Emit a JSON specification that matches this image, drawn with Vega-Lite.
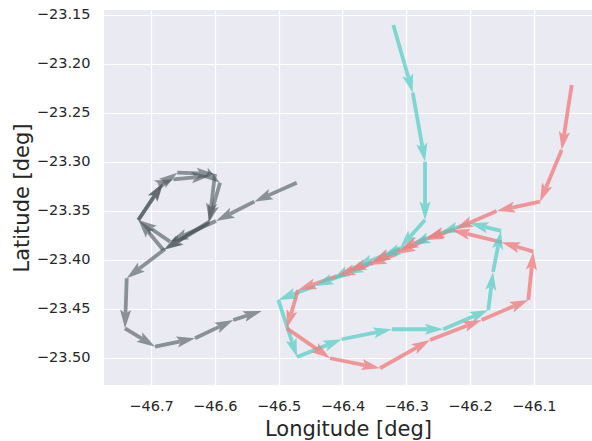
{
  "$schema": "https://vega.github.io/schema/vega-lite/v6.json",
  "width": 488,
  "height": 375,
  "autosize": {"type": "none"},
  "padding": {"left": 104, "top": 10, "right": 0, "bottom": 56},
  "background": "white",
  "config": {
    "view": {"fill": "#eaeaf2", "stroke": null},
    "axis": {
      "domain": false, "ticks": false, "tickSize": 0, "grid": true,
      "gridColor": "white", "gridWidth": 1.2,
      "labelFont": "DejaVu Sans", "labelFontSize": 14.5, "labelColor": "#262626",
      "titleFont": "DejaVu Sans", "titleFontSize": 21, "titleFontWeight": "normal", "titleColor": "#262626"
    }
  },
  "data": {
    "values": [
      {"traj": "gray", "step": 1, "lon": -46.4716, "lat": -23.3211},
      {"traj": "gray", "step": 2, "lon": -46.5381, "lat": -23.3405},
      {"traj": "gray", "step": 3, "lon": -46.5981, "lat": -23.3602},
      {"traj": "gray", "step": 4, "lon": -46.6702, "lat": -23.3813},
      {"traj": "gray", "step": 5, "lon": -46.7199, "lat": -23.3592},
      {"traj": "gray", "step": 6, "lon": -46.6807, "lat": -23.3211},
      {"traj": "gray", "step": 7, "lon": -46.6588, "lat": -23.3109},
      {"traj": "gray", "step": 8, "lon": -46.5997, "lat": -23.3122},
      {"traj": "gray", "step": 9, "lon": -46.6086, "lat": -23.3609},
      {"traj": "gray", "step": 10, "lon": -46.6807, "lat": -23.3898},
      {"traj": "gray", "step": 11, "lon": -46.7199, "lat": -23.3592},
      {"traj": "gray", "step": 12, "lon": -46.6817, "lat": -23.3217},
      {"traj": "gray", "step": 13, "lon": -46.6650, "lat": -23.3177},
      {"traj": "gray", "step": 14, "lon": -46.6075, "lat": -23.3143},
      {"traj": "gray", "step": 15, "lon": -46.5918, "lat": -23.3211},
      {"traj": "gray", "step": 16, "lon": -46.6102, "lat": -23.3626},
      {"traj": "gray", "step": 17, "lon": -46.6781, "lat": -23.3888},
      {"traj": "gray", "step": 18, "lon": -46.7381, "lat": -23.4187},
      {"traj": "gray", "step": 19, "lon": -46.7408, "lat": -23.4697},
      {"traj": "gray", "step": 20, "lon": -46.6937, "lat": -23.4885},
      {"traj": "gray", "step": 21, "lon": -46.6310, "lat": -23.4799},
      {"traj": "gray", "step": 22, "lon": -46.5710, "lat": -23.4612},
      {"traj": "gray", "step": 23, "lon": -46.5265, "lat": -23.4520},
      {"traj": "teal", "step": 1, "lon": -46.3202, "lat": -23.1602},
      {"traj": "teal", "step": 2, "lon": -46.2898, "lat": -23.2293},
      {"traj": "teal", "step": 3, "lon": -46.2705, "lat": -23.2997},
      {"traj": "teal", "step": 4, "lon": -46.2705, "lat": -23.3592},
      {"traj": "teal", "step": 5, "lon": -46.3097, "lat": -23.3878},
      {"traj": "teal", "step": 6, "lon": -46.3536, "lat": -23.4031},
      {"traj": "teal", "step": 7, "lon": -46.3959, "lat": -23.4143},
      {"traj": "teal", "step": 8, "lon": -46.4429, "lat": -23.4265},
      {"traj": "teal", "step": 9, "lon": -46.5005, "lat": -23.4408},
      {"traj": "teal", "step": 10, "lon": -46.4712, "lat": -23.4990},
      {"traj": "teal", "step": 11, "lon": -46.4011, "lat": -23.4809},
      {"traj": "teal", "step": 12, "lon": -46.3227, "lat": -23.4707},
      {"traj": "teal", "step": 13, "lon": -46.2418, "lat": -23.4707},
      {"traj": "teal", "step": 14, "lon": -46.1713, "lat": -23.4510},
      {"traj": "teal", "step": 15, "lon": -46.1639, "lat": -23.4122},
      {"traj": "teal", "step": 16, "lon": -46.1514, "lat": -23.3704},
      {"traj": "teal", "step": 17, "lon": -46.2000, "lat": -23.3626},
      {"traj": "teal", "step": 18, "lon": -46.2470, "lat": -23.3724},
      {"traj": "teal", "step": 19, "lon": -46.2909, "lat": -23.3847},
      {"traj": "teal", "step": 20, "lon": -46.3379, "lat": -23.3959},
      {"traj": "teal", "step": 21, "lon": -46.3803, "lat": -23.4071},
      {"traj": "teal", "step": 22, "lon": -46.4163, "lat": -23.4204},
      {"traj": "pink", "step": 1, "lon": -46.0406, "lat": -23.2214},
      {"traj": "pink", "step": 2, "lon": -46.0563, "lat": -23.2878},
      {"traj": "pink", "step": 3, "lon": -46.0903, "lat": -23.3405},
      {"traj": "pink", "step": 4, "lon": -46.1582, "lat": -23.3500},
      {"traj": "pink", "step": 5, "lon": -46.2235, "lat": -23.3684},
      {"traj": "pink", "step": 6, "lon": -46.2705, "lat": -23.3796},
      {"traj": "pink", "step": 7, "lon": -46.3144, "lat": -23.3939},
      {"traj": "pink", "step": 8, "lon": -46.3599, "lat": -23.4051},
      {"traj": "pink", "step": 9, "lon": -46.4085, "lat": -23.4163},
      {"traj": "pink", "step": 10, "lon": -46.4696, "lat": -23.4306},
      {"traj": "pink", "step": 11, "lon": -46.4873, "lat": -23.4697},
      {"traj": "pink", "step": 12, "lon": -46.4194, "lat": -23.5003},
      {"traj": "pink", "step": 13, "lon": -46.3411, "lat": -23.5105},
      {"traj": "pink", "step": 14, "lon": -46.2627, "lat": -23.4816},
      {"traj": "pink", "step": 15, "lon": -46.1817, "lat": -23.4612},
      {"traj": "pink", "step": 16, "lon": -46.1086, "lat": -23.4408},
      {"traj": "pink", "step": 17, "lon": -46.1008, "lat": -23.3915},
      {"traj": "pink", "step": 18, "lon": -46.1503, "lat": -23.3819},
      {"traj": "pink", "step": 19, "lon": -46.2287, "lat": -23.3694},
      {"traj": "pink", "step": 20, "lon": -46.2690, "lat": -23.3776},
      {"traj": "pink", "step": 21, "lon": -46.3097, "lat": -23.3898},
      {"traj": "pink", "step": 22, "lon": -46.3536, "lat": -23.4020},
      {"traj": "pink", "step": 23, "lon": -46.3912, "lat": -23.4112}
    ]
  },
  "transform": [
    {"window": [{"op": "lead", "field": "lon", "as": "lon2"}, {"op": "lead", "field": "lat", "as": "lat2"}],
     "groupby": ["traj"], "sort": [{"field": "step", "order": "ascending"}]},
    {"filter": "isValid(datum.lon2) && isValid(datum.lat2)"},
    {"calculate": "atan2((datum.lon2 - datum.lon) * 638, (datum.lat2 - datum.lat) * 980) * 180 / PI", "as": "heading"}
  ],
  "layer": [
    {
      "mark": {"type": "rule", "strokeWidth": 3.8, "strokeCap": "butt", "strokeDash": [0, 16, 100000]},
      "encoding": {
        "x": {"field": "lon2", "type": "quantitative", "scale": {"domain": [-46.7737, -46.0088], "nice": false, "zero": false},
              "axis": {"values": [-46.7, -46.6, -46.5, -46.4, -46.3, -46.2, -46.1], "format": ".1f", "title": "Longitude [deg]",
                       "labelPadding": 14, "titleY": 50, "titleBaseline": "alphabetic"}},
        "y": {"field": "lat2", "type": "quantitative", "scale": {"domain": [-23.5276, -23.1449], "nice": false, "zero": false},
              "axis": {"values": [-23.5, -23.45, -23.4, -23.35, -23.3, -23.25, -23.2, -23.15], "format": ".2f", "title": "Latitude [deg]",
                       "labelPadding": 14, "titleX": -75.7, "titleY": 187.5, "titleBaseline": "alphabetic"}},
        "x2": {"field": "lon"},
        "y2": {"field": "lat"},
        "color": {"field": "traj", "type": "nominal", "scale": {"domain": ["gray", "teal", "pink"], "range": ["#4a5559", "#4ecdc4", "#f08080"]}, "legend": null},
        "opacity": {"field": "traj", "type": "nominal", "scale": {"domain": ["gray", "teal", "pink"], "range": [0.6, 0.8, 0.75]}, "legend": null}
      }
    },
    {
      "mark": {"type": "point", "shape": "M0,0L5.6,18.5L1.9,16L-1.9,16L-5.6,18.5Z", "size": 4, "filled": true, "strokeWidth": 0},
      "encoding": {
        "x": {"field": "lon2", "type": "quantitative"},
        "y": {"field": "lat2", "type": "quantitative"},
        "angle": {"field": "heading", "type": "quantitative", "scale": null},
        "color": {"field": "traj", "type": "nominal", "scale": {"domain": ["gray", "teal", "pink"], "range": ["#4a5559", "#4ecdc4", "#f08080"]}, "legend": null},
        "opacity": {"field": "traj", "type": "nominal", "scale": {"domain": ["gray", "teal", "pink"], "range": [0.6, 0.8, 0.75]}, "legend": null}
      }
    }
  ]
}
